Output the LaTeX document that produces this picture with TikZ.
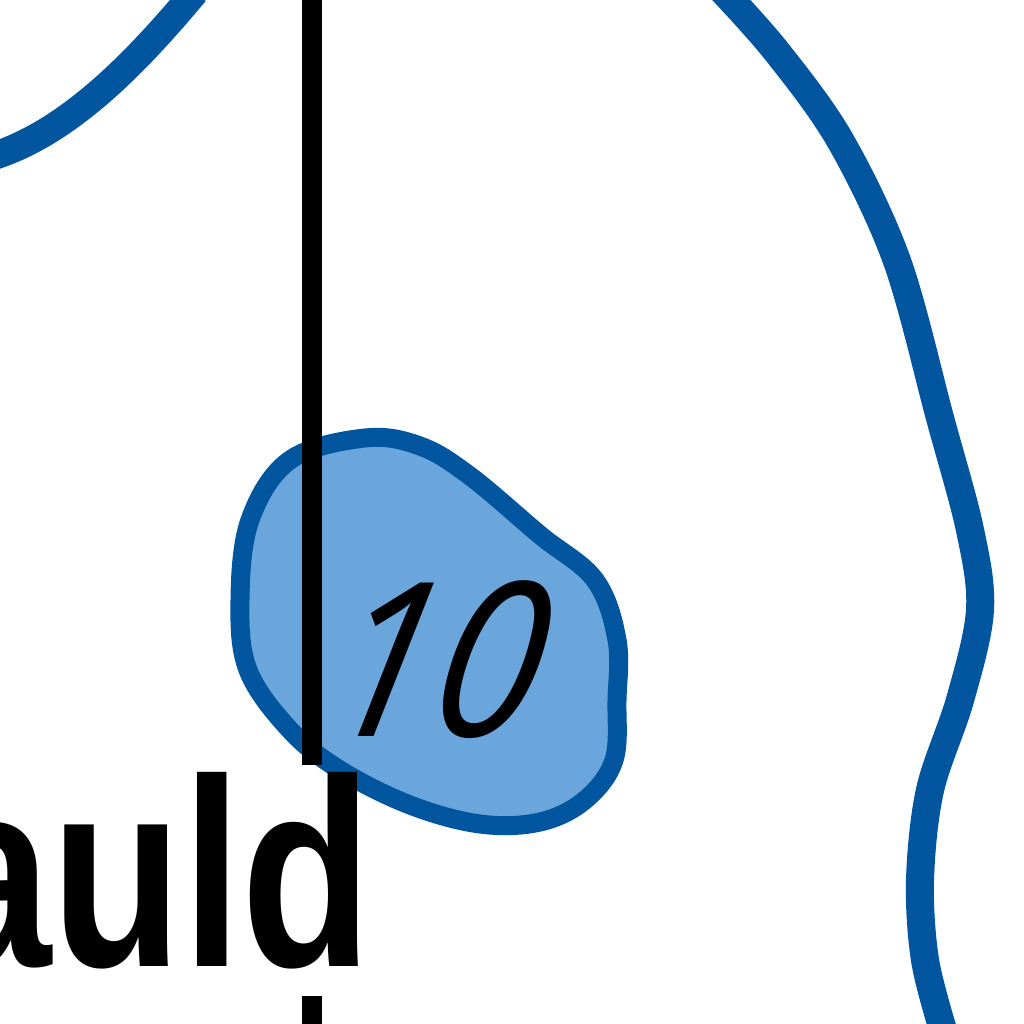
\documentclass[tikz,border=0pt]{standalone}
\usepackage{fontspec}
\setmainfont{Liberation Sans}
\newfontfamily\digitfont{Open Sans}
\definecolor{edgeblue}{RGB}{0,86,158}
\definecolor{fillblue}{RGB}{106,165,220}
\begin{document}
\begin{tikzpicture}[x=1pt,y=-1pt,
  curve/.style={draw=edgeblue,line width=28pt,line cap=butt},
  blob/.style={draw=edgeblue,fill=fillblue,line width=19pt},
  stem/.style={draw=black,line width=20pt},
  bigword/.style={font=\bfseries\fontsize{268}{268}\selectfont,inner sep=0pt,xscale=0.8},
  digits/.style={font=\digitfont\itshape\fontsize{215}{215}\selectfont,inner sep=0pt,xslant=0.2,xscale=0.9}]
\useasboundingbox (0,0) rectangle (1024,1024);
\clip (0,0) rectangle (1024,1024);
\fill[white] (0,0) rectangle (1024,1024);
% top-left arc
\draw[curve] (-20,160) .. controls (60,140) and (130,70) .. (195,-8);
% right arc
\draw[curve] plot[smooth,tension=0.55] coordinates {(722,-10) (777,52) (840,140) (897,261) (940,418) (970,530) (980,610) (960,700) (930,790) (920,880) (925,960) (943,1030)};
% blob
\path[blob] plot[smooth cycle,tension=0.6] coordinates {(365,438) (420,446) (470,476) (540,535) (595,580) (617,640) (617,700) (614,760) (585,800) (540,822) (480,824) (410,805) (340,770) (290,730) (248,670) (240,600) (250,520) (290,460)};
% vertical line
\coordinate (ltop) at (312,-5);
\coordinate (lbot) at (312,765);
\coordinate (ltop2) at (312,996);
\coordinate (lbot2) at (312,1030);
\draw[stem] (ltop) -- (lbot);
\draw[stem] (ltop2) -- (lbot2);
% texts
\node[digits] (ten) at (440,660) {10};
\node[bigword,anchor=base east] (word) at (373,966) {auld};
\end{tikzpicture}
\end{document}
